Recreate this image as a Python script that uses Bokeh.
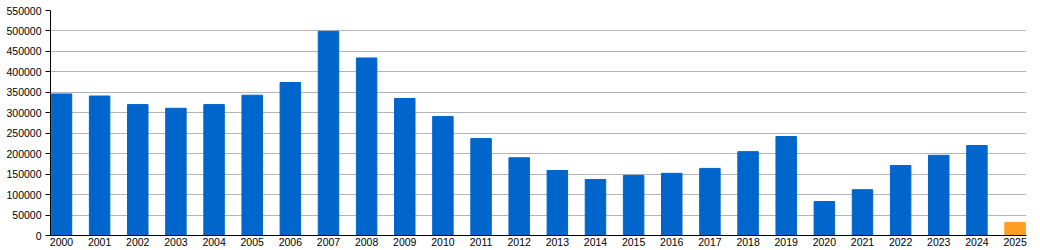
from bokeh.plotting import figure
from bokeh.models import Range1d, FixedTicker, BasicTickFormatter, ColumnDataSource
from bokeh.embed import file_html
from bokeh.resources import INLINE

years = list(range(2000, 2026))
values = [346000, 341000, 320000, 311000, 320000, 343000, 374000, 499000, 434000, 335000,
          291000, 237000, 190000, 159000, 137000, 147000, 152000, 164000, 205000, 242000,
          83000, 112000, 171000, 196000, 220000, 32000]
y_ticks = list(range(0, 550001, 50000))

partial_year = 2025
colors = ["#ff9f22" if y == partial_year else "#0066cc" for y in years]

src = ColumnDataSource(dict(x=years, top=values, color=colors))

p = figure(width=1040, height=250, output_backend="svg", toolbar_location=None,
           x_range=Range1d(1999.712, 2025.30), y_range=Range1d(0, 550000),
           min_border_left=50, min_border_right=14, min_border_top=10, min_border_bottom=15)
p.outline_line_color = None
p.background_fill_color = "white"
p.border_fill_color = "white"

p.vbar(x="x", top="top", width=0.537, bottom=0, color="color", source=src)

p.xgrid.visible = False
p.ygrid.ticker = FixedTicker(ticks=y_ticks)
p.ygrid.grid_line_color = "#b4b4b4"
p.ygrid.grid_line_width = 1

p.yaxis.ticker = FixedTicker(ticks=y_ticks)
p.yaxis.formatter = BasicTickFormatter(use_scientific=False)
p.yaxis.major_tick_out = 5
p.yaxis.major_tick_in = 0
p.yaxis.minor_tick_line_color = None
p.yaxis.major_label_standoff = 4
p.yaxis.axis_line_color = "black"
p.yaxis.major_tick_line_color = "black"

p.xaxis.ticker = FixedTicker(ticks=years)
p.xaxis.formatter = BasicTickFormatter(use_scientific=False)
p.xaxis.major_tick_out = 0
p.xaxis.major_tick_in = 0
p.xaxis.minor_tick_line_color = None
p.xaxis.major_label_standoff = 2
p.xaxis.axis_line_color = "black"

for ax in (p.xaxis, p.yaxis):
    ax.major_label_text_font = "Liberation Sans"
    ax.major_label_text_font_size = "10.5px"
    ax.major_label_text_color = "black"

open("out.html", "w").write(file_html(p, INLINE))
